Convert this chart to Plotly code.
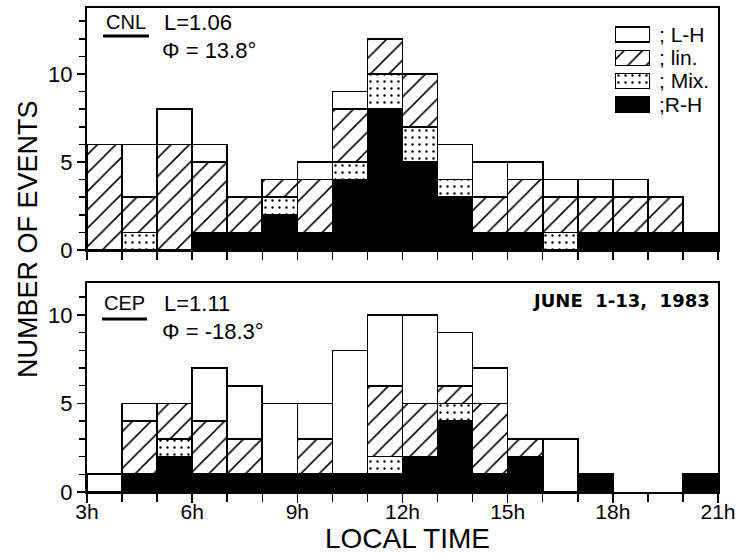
import plotly.graph_objects as go

# ---------------- data ----------------
hours = list(range(3, 21))               # left edge of each hourly bin (3h .. 20h)
series_names = ["R-H", "Mix.", "lin.", "L-H"]   # stacking order, bottom to top
legend_labels = [";R-H", "; Mix.", "; lin.", "; L-H"]

# CNL  (L=1.06, Phi=13.8 deg)
cnl_rh  = [0, 0, 0, 1, 1, 2, 1, 4, 8, 5, 3, 1, 1, 0, 1, 1, 1, 1]
cnl_mix = [0, 1, 0, 0, 0, 1, 0, 1, 2, 2, 1, 0, 0, 1, 0, 0, 0, 0]
cnl_lin = [6, 2, 6, 4, 2, 1, 3, 3, 2, 3, 0, 2, 3, 2, 2, 2, 2, 0]
cnl_lh  = [0, 3, 2, 1, 0, 0, 1, 1, 0, 0, 2, 2, 1, 1, 1, 1, 0, 0]

# CEP  (L=1.11, Phi=-18.3 deg)
cep_rh  = [0, 1, 2, 1, 1, 1, 1, 1, 1, 2, 4, 1, 2, 0, 1, 0, 0, 1]
cep_mix = [0, 0, 1, 0, 0, 0, 0, 0, 1, 0, 1, 0, 0, 0, 0, 0, 0, 0]
cep_lin = [0, 3, 2, 3, 2, 0, 2, 0, 4, 3, 1, 4, 1, 0, 0, 0, 0, 0]
cep_lh  = [1, 1, 0, 3, 3, 4, 2, 7, 4, 5, 3, 2, 0, 3, 0, 0, 0, 0]

x_tickvals = [3, 6, 9, 12, 15, 18, 21]
x_ticktext = ["3h", "6h", "9h", "12h", "15h", "18h", "21h"]
y_tickvals = [0, 5, 10]

# ---------------- styles ----------------
FONT = "Liberation Sans"
LINE = dict(color="black", width=1.6)
styles = {
    "R-H": dict(color="black", line=LINE),
    "Mix.": dict(color="white", line=LINE,
                 pattern=dict(shape=".", fgcolor="black", bgcolor="white",
                              size=7, solidity=0.09, fillmode="replace")),
    "lin.": dict(color="white", line=LINE,
                 pattern=dict(shape="/", fgcolor="black", bgcolor="white",
                              size=13, solidity=0.12, fillmode="replace")),
    "L-H": dict(color="white", line=LINE),
}

centers = [h + 0.5 for h in hours]
fig = go.Figure()

def add_panel(values, xa, ya):
    for name, vals in zip(series_names, values):
        fig.add_trace(go.Bar(
            x=centers, y=[v if v else None for v in vals], width=1,
            name=name, marker=styles[name], xaxis=xa, yaxis=ya,
            showlegend=False, hoverinfo="skip"))

add_panel([cnl_rh, cnl_mix, cnl_lin, cnl_lh], "x", "y")
add_panel([cep_rh, cep_mix, cep_lin, cep_lh], "x2", "y2")

# legend key (inset axis) built from the series names
for name, lab in zip(series_names, legend_labels):
    fig.add_trace(go.Bar(
        x=[1], y=[lab], orientation="h", width=0.64, marker=styles[name],
        xaxis="x3", yaxis="y3", showlegend=False, hoverinfo="skip"))

W, H = 738, 554
ML, MR, MT, MB = 87, 20, 8, 62
PW, PH = W - ML - MR, H - MT - MB

def px(p):
    return (p - ML) / PW

def py(p):
    return (H - MB - p) / PH

axis_common = dict(showline=True, linecolor="black", linewidth=2, mirror=True,
                   showgrid=False, zeroline=False, ticks="outside",
                   tickcolor="black", tickwidth=1.5, automargin=False)

fig.update_layout(
    width=W, height=H,
    margin=dict(l=ML, r=MR, t=MT, b=MB, autoexpand=False),
    paper_bgcolor="white", plot_bgcolor="white",
    barmode="stack", bargap=0,
    font=dict(family=FONT, color="black"),
    xaxis=dict(**axis_common, domain=[0, 1], range=[3, 21], anchor="y",
               tickvals=list(range(3, 22)), showticklabels=False, ticklen=8),
    yaxis=dict(**axis_common, domain=[py(250), 1], range=[0, 13.75], anchor="x",
               tickvals=y_tickvals, ticklen=8, tickfont=dict(size=22),
               minor=dict(ticks="outside", dtick=1, ticklen=6, tickcolor="black")),
    xaxis2=dict(**axis_common, domain=[0, 1], range=[3, 21], anchor="y2",
                tickvals=x_tickvals, ticktext=x_ticktext, ticklen=9,
                tickfont=dict(size=21), ticklabelstandoff=-9,
                minor=dict(ticks="outside", dtick=1, tick0=3, ticklen=8,
                           tickcolor="black")),
    yaxis2=dict(**axis_common, domain=[0, py(283)], range=[0, 11.8], anchor="x2",
                tickvals=y_tickvals, ticklen=8, tickfont=dict(size=22),
                minor=dict(ticks="outside", dtick=1, ticklen=6, tickcolor="black")),
    xaxis3=dict(domain=[px(615), px(650)], range=[0, 1], anchor="y3",
                visible=False, fixedrange=True),
    yaxis3=dict(domain=[py(116), py(23)], range=[-0.5, 3.5], anchor="x3",
                side="right", showline=False, showgrid=False, zeroline=False,
                ticks="", ticklabelstandoff=8, tickfont=dict(size=21),
                tickmode="array", tickvals=legend_labels, ticktext=legend_labels,
                categoryorder="array", categoryarray=legend_labels,
                automargin=False),
)

ann = []
def text(t, x, y, size, xanchor="left", **kw):
    ann.append(dict(text=t, x=px(x), y=py(y), xref="paper", yref="paper",
                    xanchor=xanchor, yanchor="middle", showarrow=False,
                    font=dict(size=size, family=kw.pop("family", FONT),
                              color="black"), **kw))

text("CNL", 126, 22, 20, xanchor="center")
text("L=1.06", 162, 22, 22)
text("\u03a6 = 13.8\u00b0", 160, 50, 22)
text("CEP", 124, 303, 20, xanchor="center")
text("L=1.11", 162, 303, 22)
text("\u03a6 = -18.3\u00b0", 160, 331, 22)
text("<b>JUNE\u00a0 1-13,\u00a0 1983</b>", 712, 300, 18, xanchor="right",
     family="DejaVu Sans")
text("NUMBER OF EVENTS", 28, 239, 27, xanchor="center", textangle=-90)
text("LOCAL TIME", 407, 538, 28, xanchor="center", borderpad=0)
fig.update_layout(annotations=ann)

# underlines of station names
for x0, x1, y in [(103, 149, 36), (102, 147, 319)]:
    fig.add_shape(type="line", xref="paper", yref="paper",
                  x0=px(x0), x1=px(x1), y0=py(y), y1=py(y),
                  line=dict(color="black", width=3))

fig.write_html("out.html",
               config={"displayModeBar": False, "staticPlot": True},
               post_script="document.body.style.margin='0px';"
                           "document.body.style.overflow='hidden';")
